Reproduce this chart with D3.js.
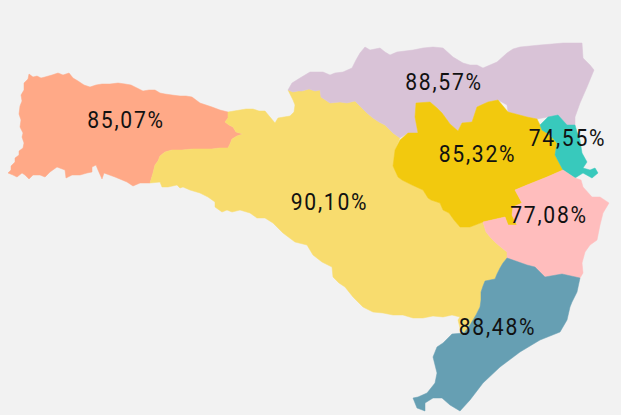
<!DOCTYPE html>
<html>
<head>
<meta charset="utf-8">
<script src="https://cdn.jsdelivr.net/npm/d3@7"></script>
<style>
  html, body { margin: 0; padding: 0; background: #f2f2f2; }
  svg { display: block; }
  text { font-family: "Roboto", sans-serif; font-size: 24px; letter-spacing: 2px; fill: #111; text-anchor: middle; }
</style>
</head>
<body>
<svg id="map"></svg>
<script>
var width = 621;
var height = 415;

var regions = ["Oeste", "Meio-Oeste e Serra", "Norte", "Vale do Itajai", "Foz do Itajai", "Grande Florianopolis", "Sul"];
var shares = ["85,07%", "90,10%", "88,57%", "85,32%", "74,55%", "77,08%", "88,48%"];
var colors = ["#ffa987", "#f8dc6e", "#d9c3d7", "#f2c90e", "#38c9bc", "#ffbdbd", "#669fb3"];

// region outlines, in the map's own planar units
var ringOeste = [[8,173],[11,170],[11,166],[15,162],[15,158],[19,155],[19,151],[23,148],[24,143],[22,137],[23,133],[20,127],[21,120],[19,114],[20,106],[22,101],[21,95],[24,90],[24,83],[28,79],[29,74],[33,77],[37,76],[41,78],[45,77],[52,75],[58,73],[63,75],[69,73],[73,78],[78,81],[84,85],[90,87],[96,85],[102,84],[110,84],[118,83],[125,84],[131,85],[137,88],[143,91],[149,90],[155,90],[160,93],[165,94],[172,95],[180,96],[186,96],[192,97],[196,100],[200,103],[206,105],[212,107],[220,110],[228,112],[228,118],[225,122],[229,125],[233,127],[236,132],[243,134],[237,136],[232,139],[230,144],[228,148],[220,148],[212,149],[203,149],[193,149],[182,150],[172,150],[165,152],[160,156],[158,161],[155,165],[153,173],[150,183],[140,183],[133,186],[127,182],[115,177],[104,173],[102,179],[98,170],[96,165],[92,167],[92,172],[87,173],[80,175],[72,175],[66,178],[65,170],[57,167],[50,172],[45,177],[40,175],[33,175],[29,179],[25,175],[22,173],[17,177],[13,175]];
var ringSerra = [[228,112],[234,111],[240,110],[246,109],[253,109],[259,111],[265,111],[270,117],[275,123],[278,118],[284,117],[290,116],[294,112],[295,105],[293,100],[291,96],[288,90],[293,92],[298,91],[302,91],[309,89],[315,91],[320,90],[321,97],[330,103],[340,102],[347,103],[355,101],[362,108],[367,113],[373,118],[379,122],[385,125],[393,133],[400,138],[395,150],[393,166],[398,177],[402,180],[412,185],[423,190],[428,198],[431,200],[440,203],[443,210],[449,213],[454,220],[460,227],[470,227],[483,222],[486,232],[491,238],[496,243],[502,248],[507,252],[507,258],[503,263],[500,268],[497,274],[495,279],[485,281],[483,286],[481,292],[481,300],[480,307],[476,315],[470,325],[464,333],[460,328],[458,320],[460,317],[452,315],[443,317],[433,316],[423,318],[413,318],[403,315],[393,315],[383,313],[373,312],[363,307],[353,297],[345,287],[339,283],[333,277],[332,267],[322,262],[313,255],[307,245],[295,242],[283,233],[273,223],[265,218],[257,218],[250,213],[240,210],[232,212],[227,210],[222,212],[215,207],[215,202],[208,197],[200,193],[190,190],[183,187],[180,188],[177,185],[168,187],[162,187],[160,182],[150,183],[153,173],[155,165],[158,161],[160,156],[165,152],[172,150],[182,150],[193,149],[203,149],[212,149],[220,148],[228,148],[230,144],[232,139],[237,136],[243,134],[236,132],[233,127],[229,125],[225,122],[228,118]];
var ringNorte = [[288,90],[292,83],[300,78],[310,72],[323,72],[330,75],[335,73],[343,72],[352,68],[356,60],[360,53],[365,47],[370,50],[380,48],[385,52],[390,55],[397,52],[405,51],[413,50],[423,48],[433,47],[443,48],[453,57],[463,63],[470,65],[477,65],[483,68],[490,65],[497,62],[507,53],[513,49],[520,47],[530,46],[540,45],[552,44],[563,43],[573,43],[582,43],[583,58],[590,65],[594,70],[587,87],[580,103],[575,117],[575,125],[567,125],[558,115],[548,117],[537,119],[527,117],[508,112],[507,105],[498,100],[488,102],[477,107],[472,122],[462,123],[458,131],[450,124],[442,113],[437,108],[430,102],[416,103],[415,117],[418,133],[408,133],[400,138],[393,133],[385,125],[379,122],[373,118],[367,113],[362,108],[355,101],[347,103],[340,102],[330,103],[321,97],[320,90],[315,91],[309,89],[302,91],[298,91],[293,92]];
var ringVale = [[416,103],[430,102],[437,108],[442,113],[450,124],[458,131],[462,123],[472,122],[477,107],[488,102],[498,100],[508,112],[527,117],[537,119],[540,125],[542,130],[550,135],[557,143],[555,155],[563,170],[547,177],[527,185],[515,190],[522,203],[513,207],[512,215],[517,225],[508,225],[505,217],[483,222],[470,227],[460,227],[454,220],[449,213],[443,210],[440,203],[431,200],[428,198],[423,190],[412,185],[402,180],[398,177],[393,166],[395,150],[400,140],[408,133],[418,133],[415,117]];
var ringFoz = [[540,125],[548,117],[558,115],[567,125],[575,125],[577,132],[580,140],[582,153],[587,162],[583,168],[590,170],[595,168],[598,173],[592,178],[583,173],[575,178],[563,170],[555,155],[557,143],[550,135],[542,130]];
var ringFloripa = [[483,222],[505,217],[508,225],[517,225],[512,215],[513,207],[522,203],[515,190],[527,185],[547,177],[563,170],[575,178],[581,180],[583,187],[592,197],[600,197],[609,203],[603,213],[600,225],[597,240],[590,245],[585,252],[582,263],[583,273],[580,278],[562,274],[545,277],[535,267],[527,265],[507,258],[507,252],[502,248],[496,243],[491,238],[486,232]];
var ringSul = [[507,258],[527,265],[535,267],[545,277],[562,274],[580,278],[577,292],[572,302],[570,307],[567,320],[560,332],[540,340],[520,352],[500,367],[483,383],[470,400],[460,411],[450,405],[442,398],[433,398],[425,403],[425,411],[417,408],[413,398],[418,397],[427,393],[435,383],[437,373],[433,357],[437,347],[443,343],[452,334],[464,333],[470,325],[476,315],[480,307],[481,300],[481,292],[483,286],[485,281],[495,279],[497,274],[500,268],[503,263]];
var rings = [ringOeste, ringSerra, ringNorte, ringVale, ringFoz, ringFloripa, ringSul];

// where each share is printed, same units
var labelX = [126, 329.5, 444, 477.5, 567.5, 549, 497.5];
var labelY = [120, 202, 82, 154, 138, 215, 327];

var svg = d3.select("#map")
    .attr("width", width)
    .attr("height", height);

var path = d3.geoPath(d3.geoIdentity());

svg.selectAll("path")
    .data(regions)
    .enter()
    .append("path")
    .attr("d", function(d, i) {
        return path({type: "Polygon", coordinates: [rings[i].concat([rings[i][0]])]});
    })
    .attr("fill", function(d, i) { return colors[i]; })
    .attr("stroke", function(d, i) { return colors[i]; })
    .attr("stroke-width", 0.5);

// squeeze the digits a little, the original face is narrower than Roboto
svg.selectAll("text")
    .data(shares)
    .enter()
    .append("text")
    .attr("transform", function(d, i) { return "translate(" + labelX[i] + "," + labelY[i] + ") scale(0.88,1)"; })
    .attr("dy", "0.35em")
    .text(function(d) { return d; });
</script>
</body>
</html>
